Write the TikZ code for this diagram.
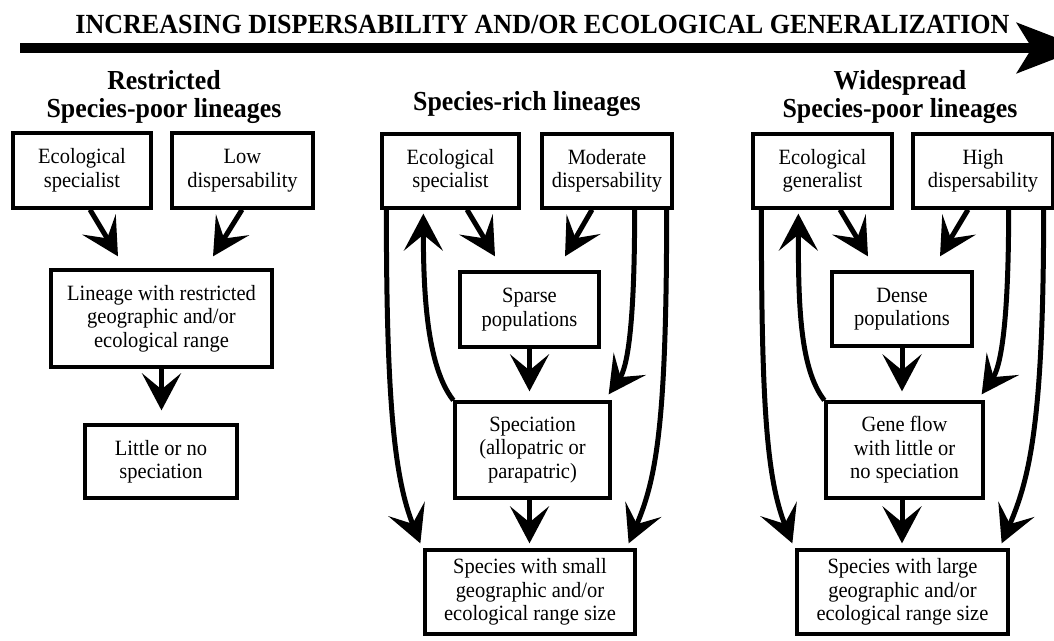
\documentclass[tikz,border=0pt]{standalone}
\usepackage{fontspec}
\setmainfont{Liberation Serif}[FakeStretch = 0.94]
\usetikzlibrary{arrows.meta,calc}

\newcommand{\boxfont}{\fontsize{21.8}{23.5}\selectfont}
\newcommand{\headfont}{\fontsize{27.5}{28.5}\selectfont\bfseries}
\newcommand{\titlefont}{\fontsize{27.7}{30}\selectfont\bfseries}

\tikzset{
	box/.style = {draw, line width = 3.3pt, align = center, inner sep = 0pt, font = \boxfont},
	head/.style = {align = center, inner sep = 0pt, anchor = north, font = \headfont},
	arr/.style = {line width = 5pt, -{Stealth[length = 37pt, width = 39pt, inset = 16pt]}}
}

\begin{document}
\begin{tikzpicture}[x = 1pt, y = -1pt]
	\useasboundingbox (0,0) rectangle (1054,640);

	\node[anchor = base, inner sep = 0pt, font = \titlefont] (title) at (542.5,33) {INCREASING DISPERSABILITY AND/OR ECOLOGICAL GENERALIZATION};
	\coordinate (tail) at (20,48);
	\coordinate (tip) at (1083,48);
	\draw[line width = 9.5pt, -{Stealth[length = 66pt, width = 50pt, inset = 15pt]}] (tail)--(tip);

	\node[head] (rhead) at (164,70) {Restricted\\Species-poor lineages};
	\node[head] (mhead) at (527,91) {Species-rich lineages};
	\node[head] (whead) at (900,70) {Widespread\\Species-poor lineages};

	\node[box, minimum width = 138pt, minimum height = 75pt] (rspec) at (82,170.5) {Ecological\\specialist};
	\node[box, minimum width = 141pt, minimum height = 75pt] (rdisp) at (242.5,170.5) {Low\\dispersability};
	\node[box, minimum width = 221pt, minimum height = 97pt] (rrange) at (161.5,318.5) {Lineage with restricted\\geographic and/or\\ecological range};
	\node[box, minimum width = 152pt, minimum height = 73pt] (rnone) at (161,461.5) {Little or no\\speciation};

	\draw[arr] ($(rspec.south)+(8,0)$)--($(rrange.north)+(-43.5,-12)$);
	\draw[arr] ($(rdisp.south)+(-0.5,0)$)--($(rrange.north)+(51.5,-12)$);
	\draw[arr] (rrange.south)--($(rrange.south |- rnone.north)+(0,-13)$);

	\node[box, minimum width = 137pt, minimum height = 74pt] (mspec) at (450.5,171) {Ecological\\specialist};
	\node[box, minimum width = 130pt, minimum height = 74pt] (mdisp) at (607,171) {Moderate\\dispersability};
	\node[box, minimum width = 139pt, minimum height = 75pt] (msparse) at (529.5,309.5) {Sparse\\populations};
	\node[box, minimum width = 155pt, minimum height = 96pt] (mspeciation) at (532.5,450) {Speciation\\(allopatric or\\parapatric)};
	\node[box, minimum width = 210pt, minimum height = 84pt] (msmall) at (530,592) {Species with small\\geographic and/or\\ecological range size};

	\draw[arr] ($(mspec.south)+(16.5,0)$)--($(msparse.north)+(-34.5,-14)$);
	\draw[arr] ($(mdisp.south)+(-15,0)$)--($(msparse.north)+(35.5,-14)$);
	\draw[arr] (msparse.south)--($(msparse.south |- mspeciation.north)+(0,-9)$);
	\draw[arr] ($(msparse.south |- mspeciation.south)$)--($(msparse.south |- msmall.north)+(0,-5)$);
	\draw[arr] ($(mspec.south west)+(6,0)$) .. controls +(0,192) and +(-26,-65) .. ($(msmall.north west)+(-3,-5)$);
	\draw[arr] (mspeciation.north west) .. controls +(-25,-32) and +(0,88) .. ($(mspec.south west)+(43,4)$);
	\draw[arr] ($(mdisp.south east)+(-39,0)$) .. controls +(0,122) and +(18,-26) .. ($(mspeciation.north east)+(-3,-6)$);
	\draw[arr] ($(mdisp.south east)+(-7,0)$) .. controls +(0,212) and +(28,-65) .. ($(msmall.north east)+(-8,-5)$);

	\node[box, minimum width = 139pt, minimum height = 74pt] (wspec) at (822.5,171) {Ecological\\generalist};
	\node[box, minimum width = 140pt, minimum height = 74pt] (wdisp) at (983,171) {High\\dispersability};
	\node[box, minimum width = 140pt, minimum height = 74pt] (wdense) at (902,309) {Dense\\populations};
	\node[box, minimum width = 157pt, minimum height = 96pt] (wgene) at (904.5,450) {Gene flow\\with little or\\no speciation};
	\node[box, minimum width = 211pt, minimum height = 84pt] (wlarge) at (902.5,592) {Species with large\\geographic and/or\\ecological range size};

	\draw[arr] ($(wspec.south)+(17.5,0)$)--($(wdense.north)+(-34,-14)$);
	\draw[arr] ($(wdisp.south)+(-15,0)$)--($(wdense.north)+(38,-14)$);
	\draw[arr] (wdense.south)--($(wdense.south |- wgene.north)+(0,-9)$);
	\draw[arr] ($(wdense.south |- wgene.south)$)--($(wdense.south |- wlarge.north)+(0,-5)$);
	\draw[arr] ($(wspec.south west)+(10,0)$) .. controls +(0,192) and +(-26,-65) .. ($(wlarge.north west)+(-3,-5)$);
	\draw[arr] (wgene.north west) .. controls +(-25,-32) and +(0,88) .. ($(wspec.south west)+(47,4)$);
	\draw[arr] ($(wdisp.south east)+(-46,0)$) .. controls +(0,122) and +(18,-26) .. ($(wgene.north east)+(-3,-6)$);
	\draw[arr] ($(wdisp.south east)+(-11,0)$) .. controls +(0,212) and +(28,-65) .. ($(wlarge.north east)+(-8,-5)$);
\end{tikzpicture}
\end{document}
